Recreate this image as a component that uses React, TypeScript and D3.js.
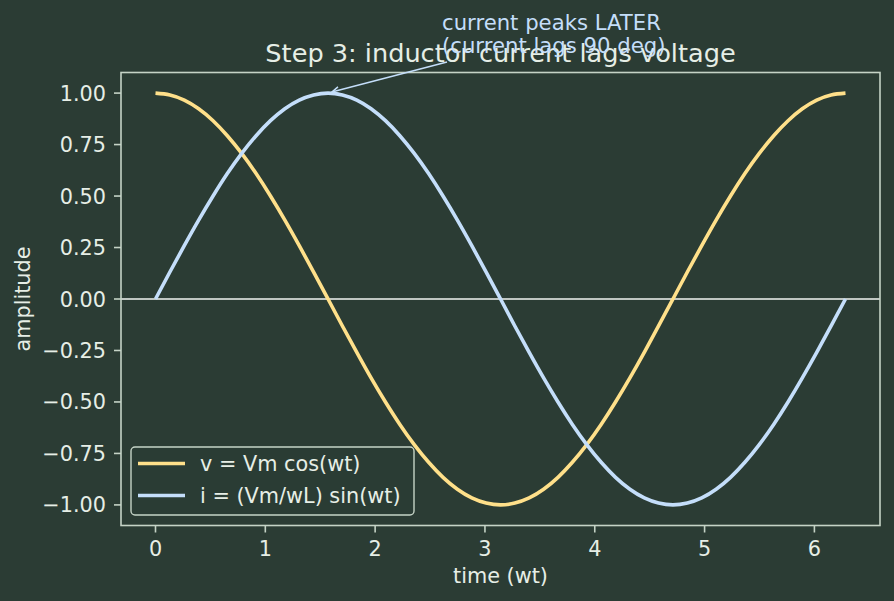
import React from "react";
import * as d3 from "d3";

const wt = [0, 0.131, 0.262, 0.393, 0.524, 0.654, 0.785, 0.916, 1.047, 1.178, 1.309, 1.440, 1.571, 1.702, 1.833, 1.963, 2.094, 2.225, 2.356, 2.487, 2.618, 2.749, 2.880, 3.011, 3.142, 3.272, 3.403, 3.534, 3.665, 3.796, 3.927, 4.058, 4.189, 4.320, 4.451, 4.581, 4.712, 4.843, 4.974, 5.105, 5.236, 5.367, 5.498, 5.629, 5.760, 5.890, 6.021, 6.152, 6.283];
const voltage = [1, 0.991, 0.966, 0.924, 0.866, 0.793, 0.707, 0.609, 0.5, 0.383, 0.259, 0.131, 0, -0.131, -0.259, -0.383, -0.5, -0.609, -0.707, -0.793, -0.866, -0.924, -0.966, -0.991, -1, -0.991, -0.966, -0.924, -0.866, -0.793, -0.707, -0.609, -0.5, -0.383, -0.259, -0.131, 0, 0.131, 0.259, 0.383, 0.5, 0.609, 0.707, 0.793, 0.866, 0.924, 0.966, 0.991, 1];
const current = [0, 0.131, 0.259, 0.383, 0.5, 0.609, 0.707, 0.793, 0.866, 0.924, 0.966, 0.991, 1, 0.991, 0.966, 0.924, 0.866, 0.793, 0.707, 0.609, 0.5, 0.383, 0.259, 0.131, 0, -0.131, -0.259, -0.383, -0.5, -0.609, -0.707, -0.793, -0.866, -0.924, -0.966, -0.991, -1, -0.991, -0.966, -0.924, -0.866, -0.793, -0.707, -0.609, -0.5, -0.383, -0.259, -0.131, 0];
const xTicks = [0, 1, 2, 3, 4, 5, 6];
const yTicks = [1, 0.75, 0.5, 0.25, 0, -0.25, -0.5, -0.75, -1];
const seriesNames = ["v = Vm cos(wt)", "i = (Vm/wL) sin(wt)"];
const annotationLines = ["current peaks LATER", "(current lags 90 deg)"];
const peakPoint = { x: 1.5708, y: 1 };

const W = 894, H = 601;
const M = { left: 121, right: 880, top: 72.5, bottom: 525.5 };
const BG = "#2b3c34";
const FG = "#e6eee6";
const SPINE = "#c5d3c6";
const VCOL = "#ffe08a";
const ICOL = "#c4defa";
const FONT = "'DejaVu Sans', sans-serif";
const FS = 20.8;

export default function App() {
  const x = d3.scaleLinear().domain([-0.31416, 6.59734]).range([M.left, M.right]);
  const y = d3.scaleLinear().domain([-1.1, 1.1]).range([M.bottom, M.top]);
  const line = d3
    .line<[number, number]>()
    .x((d) => x(d[0]))
    .y((d) => y(d[1]))
    .curve(d3.curveNatural);
  const vPath = line(wt.map((t, i) => [t, voltage[i]]))!;
  const iPath = line(wt.map((t, i) => [t, current[i]]))!;

  const px = x(peakPoint.x), py = y(peakPoint.y);
  const sx = 447, sy = 62;
  const ang = Math.atan2(py - sy, px - sx);
  const ex = px - Math.cos(ang) * 4, ey = py - Math.sin(ang) * 4;
  const hl = 8, hw = 0.45;
  const h1 = [ex - hl * Math.cos(ang - hw), ey - hl * Math.sin(ang - hw)];
  const h2 = [ex - hl * Math.cos(ang + hw), ey - hl * Math.sin(ang + hw)];

  return (
    <svg width={W} height={H} style={{ display: "block", position: "absolute", left: 0, top: 0 }} fontFamily={FONT}>
      <rect width={W} height={H} fill={BG} />
      <defs>
        <clipPath id="plotclip">
          <rect x={M.left} y={M.top} width={M.right - M.left} height={M.bottom - M.top} />
        </clipPath>
      </defs>
      <line x1={M.left} x2={M.right} y1={y(0)} y2={y(0)} stroke="#f2f5f2" strokeWidth={1.5} />
      <g clipPath="url(#plotclip)">
        <path d={vPath} fill="none" stroke={VCOL} strokeWidth={3.6} />
        <path d={iPath} fill="none" stroke={ICOL} strokeWidth={3.6} />
      </g>
      <rect x={M.left} y={M.top} width={M.right - M.left} height={M.bottom - M.top} fill="none" stroke={SPINE} strokeWidth={1.6} />
      {xTicks.map((t) => (
        <g key={"x" + t}>
          <line x1={x(t)} x2={x(t)} y1={M.bottom} y2={M.bottom + 7} stroke={SPINE} strokeWidth={1.6} />
          <text x={x(t)} y={556} textAnchor="middle" fontSize={FS} fill={FG}>{t}</text>
        </g>
      ))}
      {yTicks.map((t) => (
        <g key={"y" + t}>
          <line x1={M.left - 7} x2={M.left} y1={y(t)} y2={y(t)} stroke={SPINE} strokeWidth={1.6} />
          <text x={M.left - 15} y={y(t) + 7.5} textAnchor="end" fontSize={FS} fill={FG}>
            {(t < 0 ? "\u2212" : "") + Math.abs(t).toFixed(2)}
          </text>
        </g>
      ))}
      <text x={(M.left + M.right) / 2} y={583} textAnchor="middle" fontSize={FS} fill={FG}>time (wt)</text>
      <text transform={`translate(30,${(M.top + M.bottom) / 2}) rotate(-90)`} textAnchor="middle" fontSize={FS} fill={FG}>amplitude</text>
      <text x={(M.left + M.right) / 2} y={62} textAnchor="middle" fontSize={25.6} fill={FG}>Step 3: inductor current lags voltage</text>
      <text x={442} y={30} fontSize={21.2} fill={ICOL}>{annotationLines[0]}</text>
      <text x={442} y={53} fontSize={21.2} fill={ICOL}>{annotationLines[1]}</text>
      <line x1={sx} y1={sy} x2={ex} y2={ey} stroke={ICOL} strokeWidth={1.5} />
      <polyline points={`${h1[0]},${h1[1]} ${ex},${ey} ${h2[0]},${h2[1]}`} fill="none" stroke={ICOL} strokeWidth={1.5} />
      <rect x={131} y={447} width={283} height={68} rx={4} fill={BG} fillOpacity={0.8} stroke={SPINE} strokeWidth={1.4} />
      {seriesNames.map((n, i) => (
        <g key={n}>
          <line x1={138} x2={185} y1={463.5 + i * 32} y2={463.5 + i * 32} stroke={i === 0 ? VCOL : ICOL} strokeWidth={3.6} />
          <text x={200} y={471 + i * 32} fontSize={FS} fill={FG}>{n}</text>
        </g>
      ))}
    </svg>
  );
}
